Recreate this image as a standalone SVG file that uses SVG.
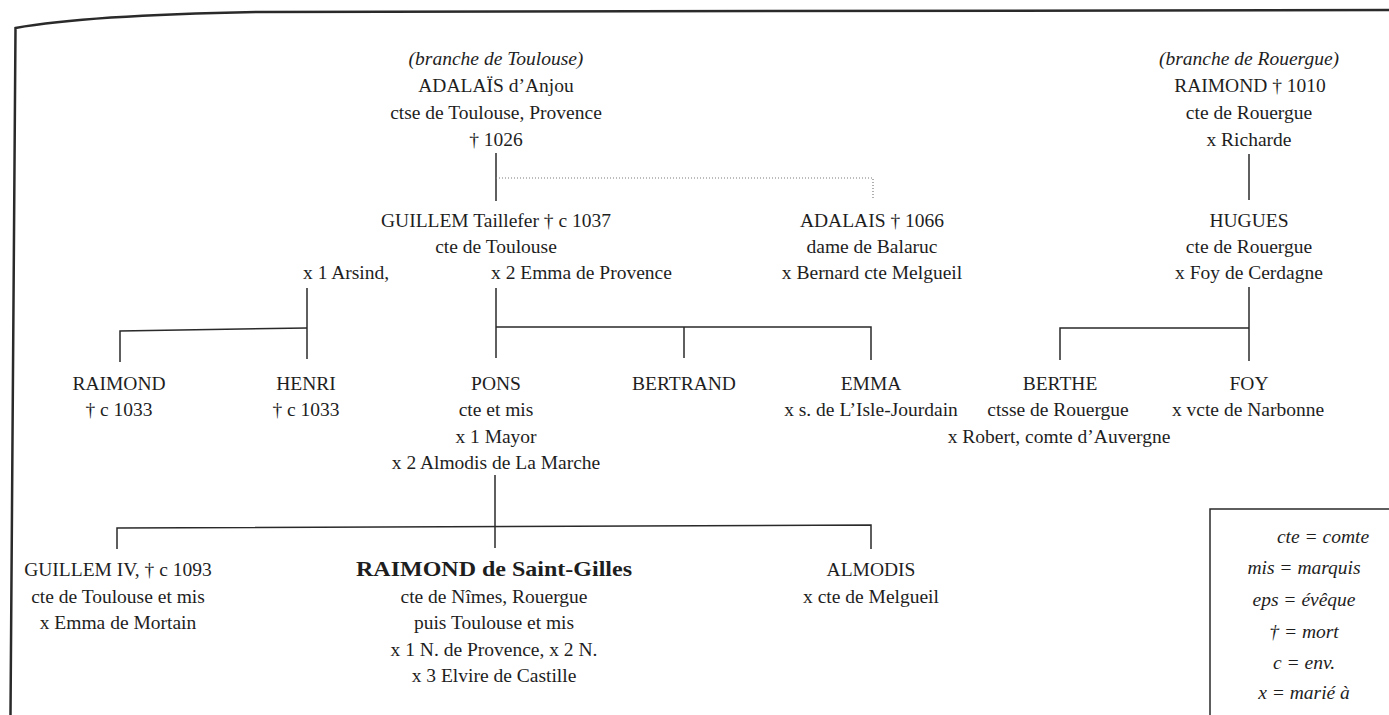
<svg xmlns="http://www.w3.org/2000/svg" width="1389" height="715" viewBox="0 0 1389 715">
<style>
text{font-family:"Liberation Serif","Times New Roman",serif;font-size:19.5px;fill:#1e1e1e;text-anchor:middle}
.it{font-style:italic}
.st{text-anchor:start}
.bd{font-weight:bold;font-size:22px}
.ln{fill:none;stroke:#2a2a2a;stroke-width:1.5}
.dot{fill:none;stroke:#7a7a7a;stroke-width:1.2;stroke-dasharray:1 2}
.frame{fill:none;stroke:#2a2a2a;stroke-width:2.5}
</style>
<rect width="1389" height="715" fill="#ffffff"/>
<path class="frame" d="M10.5 715 L15.5 28 C60 20 150 14 260 12 L1389 10"/>

<g id="connectors">
<path class="ln" d="M496 153 V201"/>
<path class="dot" d="M496 178 H873 V200"/>
<path class="ln" d="M1249 154 V200"/>
<path class="ln" d="M307 288 V359"/>
<path class="ln" d="M307 328 L120 331 V362"/>
<path class="ln" d="M496 288 V358"/>
<path class="ln" d="M496 327 H871 V360"/>
<path class="ln" d="M684 327 V358"/>
<path class="ln" d="M1249 287 V361"/>
<path class="ln" d="M1249 328 H1060 V360"/>
<path class="ln" d="M495 475 V548"/>
<path class="ln" d="M117 549 V528 L871 525 V549"/>
</g>

<g id="adalais-anjou">
<text class="it" x="496" y="65">(branche de Toulouse)</text>
<text x="496" y="92">ADALAÏS d’Anjou</text>
<text x="496" y="119">ctse de Toulouse, Provence</text>
<text x="496" y="146">† 1026</text>
</g>
<g id="raimond-1010">
<text class="it" x="1249" y="65">(branche de Rouergue)</text>
<text x="1250" y="92">RAIMOND † 1010</text>
<text x="1249" y="119">cte de Rouergue</text>
<text x="1249" y="146">x Richarde</text>
</g>
<g id="guillem-taillefer">
<text x="496" y="227">GUILLEM Taillefer † c 1037</text>
<text x="496" y="253">cte de Toulouse</text>
<text class="st" x="303" y="279">x 1 Arsind,</text>
<text class="st" x="491" y="279">x 2 Emma de Provence</text>
</g>
<g id="adalais-1066">
<text x="872" y="227">ADALAIS † 1066</text>
<text x="872" y="253">dame de Balaruc</text>
<text x="872" y="279">x Bernard cte Melgueil</text>
</g>
<g id="hugues">
<text x="1249" y="227">HUGUES</text>
<text x="1249" y="253">cte de Rouergue</text>
<text x="1249" y="279">x Foy de Cerdagne</text>
</g>
<g id="raimond-1033">
<text x="119" y="390">RAIMOND</text>
<text x="119" y="416">† c 1033</text>
</g>
<g id="henri">
<text x="306" y="390">HENRI</text>
<text x="306" y="416">† c 1033</text>
</g>
<g id="pons">
<text x="496" y="390">PONS</text>
<text x="496" y="416">cte et mis</text>
<text x="496" y="443">x 1 Mayor</text>
<text x="496" y="469">x 2 Almodis de La Marche</text>
</g>
<g id="bertrand">
<text x="684" y="390">BERTRAND</text>
</g>
<g id="emma">
<text x="871" y="390">EMMA</text>
<text x="871" y="416">x s. de L’Isle-Jourdain</text>
</g>
<g id="berthe">
<text x="1060" y="390">BERTHE</text>
<text x="1058" y="416">ctsse de Rouergue</text>
<text x="1059" y="443">x Robert, comte d’Auvergne</text>
</g>
<g id="foy">
<text x="1249" y="390">FOY</text>
<text x="1248" y="416">x vcte de Narbonne</text>
</g>
<g id="guillem-iv">
<text x="118" y="576">GUILLEM IV, † c 1093</text>
<text x="118" y="603">cte de Toulouse et mis</text>
<text x="118" y="629">x Emma de Mortain</text>
</g>
<g id="raimond-saint-gilles">
<text class="bd" x="494" y="576" textLength="276" lengthAdjust="spacingAndGlyphs">RAIMOND de Saint-Gilles</text>
<text x="494" y="603">cte de Nîmes, Rouergue</text>
<text x="494" y="629">puis Toulouse et mis</text>
<text x="494" y="656">x 1 N. de Provence, x 2 N.</text>
<text x="494" y="682">x 3 Elvire de Castille</text>
</g>
<g id="almodis">
<text x="871" y="576">ALMODIS</text>
<text x="871" y="603">x cte de Melgueil</text>
</g>
<g id="legend">
<path class="ln" d="M1210 715 V509 H1389"/>
<text class="it" x="1323" y="543">cte = comte</text>
<text class="it" x="1304" y="574">mis = marquis</text>
<text class="it" x="1304" y="606">eps = évêque</text>
<text class="it" x="1304" y="638">† = mort</text>
<text class="it" x="1304" y="669">c = env.</text>
<text class="it" x="1304" y="699">x = marié à</text>
</g>
</svg>
